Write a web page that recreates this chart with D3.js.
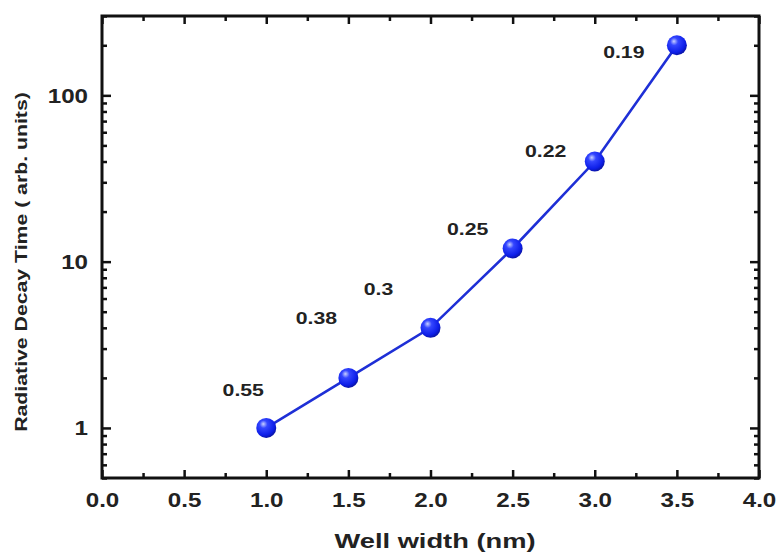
<!DOCTYPE html>
<html>
<head>
<meta charset="UTF-8">
<style>
  body { margin: 0; background: #fff; }
  text { font-family: "Liberation Sans", Arial, sans-serif; font-weight: bold; fill: #222; }
</style>
</head>
<body>
<script src="https://cdn.jsdelivr.net/npm/d3@7"></script>
<script>
var wellWidth = [1.0, 1.5, 2.0, 2.5, 3.0, 3.5];
var decayTime = [1, 2, 4, 12, 40, 200];
var annText = ["0.55", "0.38", "0.3", "0.25", "0.22", "0.19"];
var annX = [0.86, 1.305, 1.683, 2.226, 2.701, 3.177];
var annY = [1.685, 4.57, 6.82, 15.7, 46.1, 181.6];
var xTicks = [0, 0.5, 1, 1.5, 2, 2.5, 3, 3.5, 4];
var yTicks = [1, 10, 100];

var W = 778, H = 555;
var m = {left: 102, right: 19, top: 16, bottom: 77};

var svg = d3.select("body").append("svg").attr("width", W).attr("height", H);

var x = d3.scaleLinear().domain([0, 4]).range([m.left, W - m.right]);
var y = d3.scaleLog().domain([0.5, 300]).range([H - m.bottom, m.top]);

// the source figure's lettering is a bit wider than the font, stretch it
var sx = 1.15;

// minor ticks
var xMinor = d3.range(0.25, 4, 0.5);
var yMinor = [];
[0.1, 1, 10, 100].forEach(function(d) {
  for (var k = 2; k <= 9; k++) {
    var v = d * k;
    if (v >= 0.5 && v <= 300) yMinor.push(v);
  }
});

function axis(gen, tr) {
  return svg.append("g").attr("transform", tr).call(gen).call(function(g) {
    g.select(".domain").remove();
    g.selectAll("line").attr("stroke", "#111").attr("stroke-width", 2.5);
  });
}

// bottom
var gb = axis(d3.axisBottom(x).tickValues(xTicks).tickSize(-8).tickPadding(14).tickFormat(d3.format(".1f")),
  "translate(0," + (H - m.bottom) + ")");
gb.selectAll("text").style("font-size", "21px").attr("fill", "#222")
  .attr("transform", "scale(" + sx + ",1)");
axis(d3.axisBottom(x).tickValues(xMinor).tickSize(-5).tickFormat(""), "translate(0," + (H - m.bottom) + ")");
// top
axis(d3.axisTop(x).tickValues(xTicks).tickSize(-8).tickFormat(""), "translate(0," + m.top + ")");
axis(d3.axisTop(x).tickValues(xMinor).tickSize(-5).tickFormat(""), "translate(0," + m.top + ")");
// left
var gl = axis(d3.axisLeft(y).tickValues(yTicks).tickSize(-9).tickFormat(d3.format("d")),
  "translate(" + m.left + ",0)");
gl.selectAll("text").style("font-size", "21px").attr("fill", "#222")
  .attr("x", -14 / sx)
  .attr("transform", "scale(" + sx + ",1)");
axis(d3.axisLeft(y).tickValues(yMinor).tickSize(-5).tickFormat(""), "translate(" + m.left + ",0)");
// right
axis(d3.axisRight(y).tickValues(yTicks).tickSize(-9).tickFormat(""), "translate(" + (W - m.right) + ",0)");
axis(d3.axisRight(y).tickValues(yMinor).tickSize(-5).tickFormat(""), "translate(" + (W - m.right) + ",0)");

// frame
svg.append("rect")
  .attr("x", m.left).attr("y", m.top)
  .attr("width", W - m.left - m.right).attr("height", H - m.top - m.bottom)
  .attr("fill", "none").attr("stroke", "#111").attr("stroke-width", 3);

// gradient for spheres
var grad = svg.append("defs").append("radialGradient")
  .attr("id", "ball").attr("cx", "40%").attr("cy", "35%").attr("r", "65%").attr("fx", "35%").attr("fy", "30%");
grad.append("stop").attr("offset", "0%").attr("stop-color", "#c8d0ff");
grad.append("stop").attr("offset", "30%").attr("stop-color", "#3446ff");
grad.append("stop").attr("offset", "80%").attr("stop-color", "#0d1ee8");
grad.append("stop").attr("offset", "100%").attr("stop-color", "#0a14a8");

var pts = wellWidth.map(function(d, i) { return [d, decayTime[i]]; });

svg.append("path")
  .datum(pts)
  .attr("fill", "none")
  .attr("stroke", "#1e2fd6")
  .attr("stroke-width", 2.6)
  .attr("d", d3.line().x(function(d) { return x(d[0]); }).y(function(d) { return y(d[1]); }));

svg.selectAll("circle.pt")
  .data(pts)
  .enter().append("circle")
  .attr("class", "pt")
  .attr("cx", function(d) { return x(d[0]); })
  .attr("cy", function(d) { return y(d[1]); })
  .attr("r", 10)
  .attr("fill", "url(#ball)");

svg.selectAll("g.ann")
  .data(annText)
  .enter().append("g")
  .attr("class", "ann")
  .attr("transform", function(d, i) { return "translate(" + x(annX[i]) + "," + y(annY[i]) + ")"; })
  .append("text")
  .attr("dy", "0.36em")
  .attr("text-anchor", "middle")
  .attr("transform", "scale(1.25,1)")
  .style("font-size", "17px")
  .text(function(d) { return d; });

// axis titles
svg.append("text")
  .attr("transform", "translate(435,548) scale(1.3,1)")
  .attr("text-anchor", "middle")
  .style("font-size", "21px")
  .text("Well width (nm)");

svg.append("text")
  .attr("transform", "translate(27,262) rotate(-90) scale(1.25,1)")
  .attr("text-anchor", "middle")
  .style("font-size", "17px")
  .text("Radiative Decay Time ( arb. units)");
</script>
</body>
</html>
